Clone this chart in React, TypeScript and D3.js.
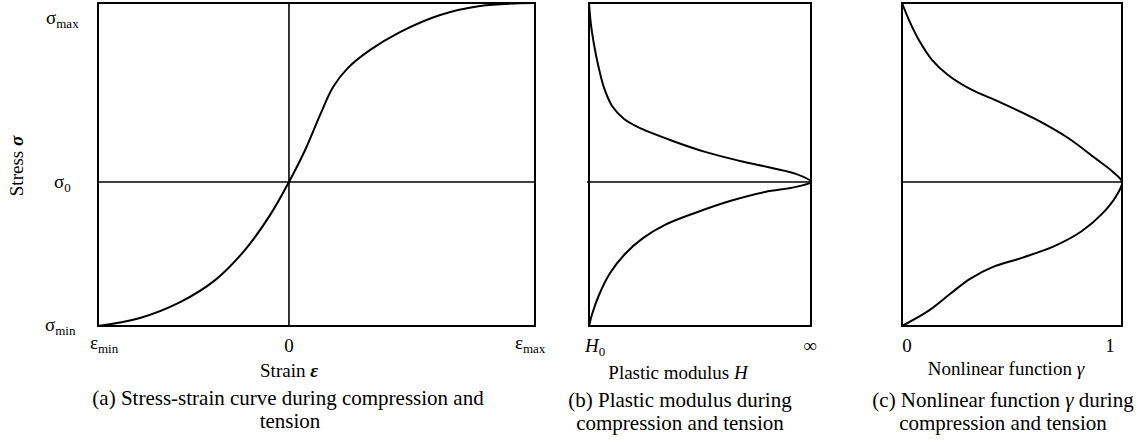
import React from "react";
import * as d3 from "d3";

// Panel (a): stress-strain curve (normalized: x from εmin..εmax, y from σmin..σmax)
const strainA = [0, 0.096, 0.188, 0.268, 0.336, 0.394, 0.437, 0.474, 0.508, 0.538, 0.572, 0.622, 0.691, 0.783, 0.874, 1];
const stressA = [0, 0.025, 0.074, 0.142, 0.235, 0.344, 0.446, 0.545, 0.653, 0.74, 0.799, 0.854, 0.91, 0.963, 0.991, 1];

// Panel (b): plastic modulus H (normalized H0..∞) vs stress
const modulusB = [0, 0.009, 0.023, 0.041, 0.068, 0.104, 0.158, 0.239, 0.365, 0.523, 0.68, 0.824, 0.932, 1, 0.928, 0.793, 0.635, 0.477, 0.342, 0.243, 0.162, 0.095, 0.045, 0.014, 0];
const stressB = [1, 0.932, 0.87, 0.808, 0.737, 0.681, 0.641, 0.61, 0.576, 0.539, 0.511, 0.489, 0.471, 0.446, 0.43, 0.415, 0.387, 0.35, 0.313, 0.272, 0.223, 0.164, 0.096, 0.037, 0];

// Panel (c): nonlinear function γ (0..1) vs stress
const gammaC = [0, 0.036, 0.082, 0.136, 0.209, 0.309, 0.445, 0.605, 0.755, 0.877, 0.959, 1, 0.973, 0.909, 0.818, 0.695, 0.545, 0.414, 0.309, 0.218, 0.118, 0];
const stressC = [1, 0.941, 0.879, 0.824, 0.777, 0.734, 0.693, 0.641, 0.582, 0.52, 0.477, 0.446, 0.402, 0.347, 0.294, 0.248, 0.211, 0.183, 0.146, 0.099, 0.046, 0];

const strainZero = 0.437;
const stressZero = 0.446;

const FONT = "'Liberation Serif', 'Times New Roman', serif";
const TICK = 19;
const TITLE = 19;
const CAP = 21;

const yScale = d3.scaleLinear().domain([0, 1]).range([326, 3]);
const xA = d3.scaleLinear().domain([0, 1]).range([98, 535]);
const xB = d3.scaleLinear().domain([0, 1]).range([589, 811]);
const xC = d3.scaleLinear().domain([0, 1]).range([902, 1122]);

function pathFor(xs: number[], ys: number[], x: d3.ScaleLinear<number, number>) {
  const line = d3
    .line<[number, number]>()
    .x((d) => x(d[0]))
    .y((d) => yScale(d[1]))
    .curve(d3.curveCatmullRom.alpha(0.5));
  return line(xs.map((v, i) => [v, ys[i]] as [number, number])) || "";
}

function Sub({ x, y, main, sub, anchor = "start", italic = false }: any) {
  return (
    <text x={x} y={y} fontFamily={FONT} fontSize={TICK} textAnchor={anchor}>
      <tspan fontStyle={italic ? "italic" : "normal"}>{main}</tspan>
      <tspan fontSize={13} dy={4}>{sub}</tspan>
    </text>
  );
}

export default function App() {
  const y0 = yScale(stressZero);
  return (
    <svg
      width={1137}
      height={445}
      style={{ position: "absolute", left: 0, top: 0, background: "#fff" }}
    >
      <rect width={1137} height={445} fill="#fff" />
      {/* Panel a */}
      <rect x={xA(0)} y={yScale(1)} width={xA(1) - xA(0)} height={yScale(0) - yScale(1)} fill="none" stroke="#000" strokeWidth={2} />
      <line x1={xA(strainZero)} x2={xA(strainZero)} y1={yScale(0)} y2={yScale(1)} stroke="#000" strokeWidth={1.6} />
      <line x1={xA(0)} x2={xA(1)} y1={y0} y2={y0} stroke="#000" strokeWidth={1.6} />
      <path d={pathFor(strainA, stressA, xA)} fill="none" stroke="#000" strokeWidth={2} />

      <Sub x={46} y={24} main="σ" sub="max" />
      <Sub x={54} y={188} main="σ" sub="0" />
      <Sub x={45} y={331} main="σ" sub="min" />
      <Sub x={90} y={349} main="ε" sub="min" />
      <text x={xA(strainZero)} y={352} fontFamily={FONT} fontSize={TICK} textAnchor="middle">0</text>
      <Sub x={515} y={349} main="ε" sub="max" />
      <text x={289} y={377} fontFamily={FONT} fontSize={TITLE} textAnchor="middle">
        Strain <tspan fontStyle="italic" fontWeight="bold">ε</tspan>
      </text>
      <text transform="translate(23,166) rotate(-90)" fontFamily={FONT} fontSize={TITLE} textAnchor="middle">
        Stress <tspan fontStyle="italic" fontWeight="bold">σ</tspan>
      </text>
      <text x={288} y={405} fontFamily={FONT} fontSize={CAP} textAnchor="middle">(a) Stress-strain curve during compression and</text>
      <text x={290} y={428} fontFamily={FONT} fontSize={CAP} textAnchor="middle">tension</text>

      {/* Panel b */}
      <rect x={xB(0)} y={yScale(1)} width={xB(1) - xB(0)} height={yScale(0) - yScale(1)} fill="none" stroke="#000" strokeWidth={2} />
      <line x1={xB(0) - 2} x2={xB(1)} y1={y0} y2={y0} stroke="#000" strokeWidth={1.6} />
      <path d={pathFor(modulusB, stressB, xB)} fill="none" stroke="#000" strokeWidth={2} />
      <Sub x={585} y={352} main="H" sub="0" italic />
      <text x={810} y={352} fontFamily={FONT} fontSize={TICK} textAnchor="middle">∞</text>
      <text x={678} y={379} fontFamily={FONT} fontSize={TITLE} textAnchor="middle">
        Plastic modulus <tspan fontStyle="italic">H</tspan>
      </text>
      <text x={680} y={407} fontFamily={FONT} fontSize={CAP} textAnchor="middle">(b) Plastic modulus during</text>
      <text x={680} y={430} fontFamily={FONT} fontSize={CAP} textAnchor="middle">compression and tension</text>

      {/* Panel c */}
      <rect x={xC(0)} y={yScale(1)} width={xC(1) - xC(0)} height={yScale(0) - yScale(1)} fill="none" stroke="#000" strokeWidth={2} />
      <line x1={xC(0)} x2={xC(1)} y1={y0} y2={y0} stroke="#000" strokeWidth={1.6} />
      <path d={pathFor(gammaC, stressC, xC)} fill="none" stroke="#000" strokeWidth={2} />
      <text x={907} y={352} fontFamily={FONT} fontSize={TICK} textAnchor="middle">0</text>
      <text x={1110} y={352} fontFamily={FONT} fontSize={TICK} textAnchor="middle">1</text>
      <text x={1006} y={375} fontFamily={FONT} fontSize={TITLE} textAnchor="middle">
        Nonlinear function <tspan fontStyle="italic">γ</tspan>
      </text>
      <text x={1003} y={407} fontFamily={FONT} fontSize={CAP} textAnchor="middle">
        (c) Nonlinear function <tspan fontStyle="italic">γ</tspan> during
      </text>
      <text x={1003} y={430} fontFamily={FONT} fontSize={CAP} textAnchor="middle">compression and tension</text>
    </svg>
  );
}
